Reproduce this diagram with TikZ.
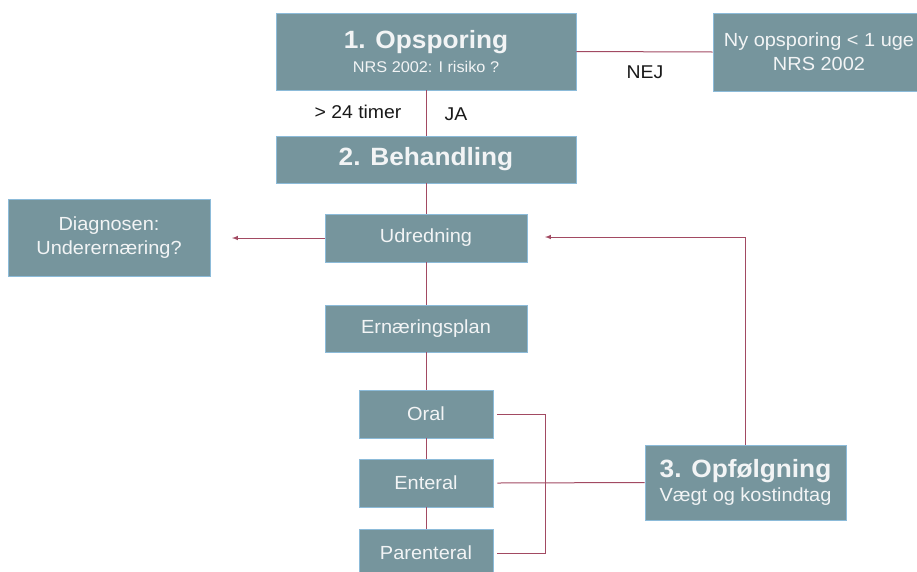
\documentclass[tikz,border=0pt]{standalone}
\usepackage{fontspec}
\setmainfont{Liberation Sans}[FakeStretch=1.05]
\usetikzlibrary{calc}

\definecolor{boxfill}{HTML}{76959D}
\definecolor{boxedge}{HTML}{8CBBD9}
\definecolor{linkred}{HTML}{A24A62}
\definecolor{boxtext}{HTML}{F2F4F5}

\begin{document}
\begin{tikzpicture}[x=1pt,y=-1pt,
    box/.style={draw=boxedge,fill=boxfill,line width=0.8pt,text=boxtext,
      align=center,inner sep=0pt,font=\fontsize{19}{24}\selectfont},
    link/.style={draw=linkred,line width=1pt},
    lbl/.style={text=black!90,font=\fontsize{18.5}{20}\selectfont}]
  \useasboundingbox (0,0) rectangle (917,571);
  \clip (0,0) rectangle (917,571);

  % main column
  \node[box,minimum width=300pt,minimum height=77pt] (ops) at (426,51.5)
    {{\fontsize{25}{26}\selectfont\bfseries 1. Opsporing}\\
     {\fontsize{15.5}{17}\selectfont NRS 2002: I risiko ?}};
  \node[box,minimum width=212pt,minimum height=78pt] (ny) at (819,52)
    {Ny opsporing < 1 uge\\NRS 2002};
  \node[box,minimum width=300pt,minimum height=47pt] (beh) at (426,159.5)
    {\fontsize{25}{26}\selectfont\bfseries 2. Behandling};
  \node[box,minimum width=202pt,minimum height=77pt] (diag) at (109,237.5)
    {Diagnosen:\\Underernæring?};
  \node[box,minimum width=202pt,minimum height=48pt] (udr) at (426,238)
    {Udredning};
  \node[box,minimum width=202pt,minimum height=47pt] (ern) at (426,328.5)
    {Ernæringsplan};
  \node[box,minimum width=134pt,minimum height=48pt] (oral) at (426,414)
    {Oral};
  \node[box,minimum width=134pt,minimum height=48pt] (ent) at (426,483)
    {Enteral};
  \node[box,minimum width=134pt,minimum height=48pt] (par) at (426,553)
    {Parenteral};
  \node[box,minimum width=201pt,minimum height=75pt] (opf) at (745.5,482.5)
    {{\fontsize{25}{28}\selectfont\bfseries 3. Opfølgning}\\
     Vægt og kostindtag};

  % labels
  \node[lbl] (nej) at (645,72) {NEJ};
  \node[lbl] (timer) at (358,112) {> 24 timer};
  \node[lbl] (ja) at (456,114) {JA};

  \coordinate (diagend) at (232,238);
  \coordinate (udrend) at (545,237);
  \coordinate (bend) at (545,414);

  % connectors
  \draw[link] (ops.east) -- (ny.west);
  \draw[link] (ops.south) -- (beh.north);
  \draw[link] (beh.south) -- (udr.north);
  \draw[link,-latex] (udr.west) -- (diagend);
  \draw[link] (udr.south) -- (ern.north);
  \draw[link] (ern.south) -- (oral.north);
  \draw[link] (oral.south) -- (ent.north);
  \draw[link] (ent.south) -- (par.north);
  \draw[link] ([xshift=4pt]oral.east) -- (bend) |- ([xshift=4pt]par.east);
  \draw[link] ([xshift=4pt]ent.east) -- (opf.west);
  \draw[link,-latex] (opf.north) |- (udrend);
\end{tikzpicture}
\end{document}
